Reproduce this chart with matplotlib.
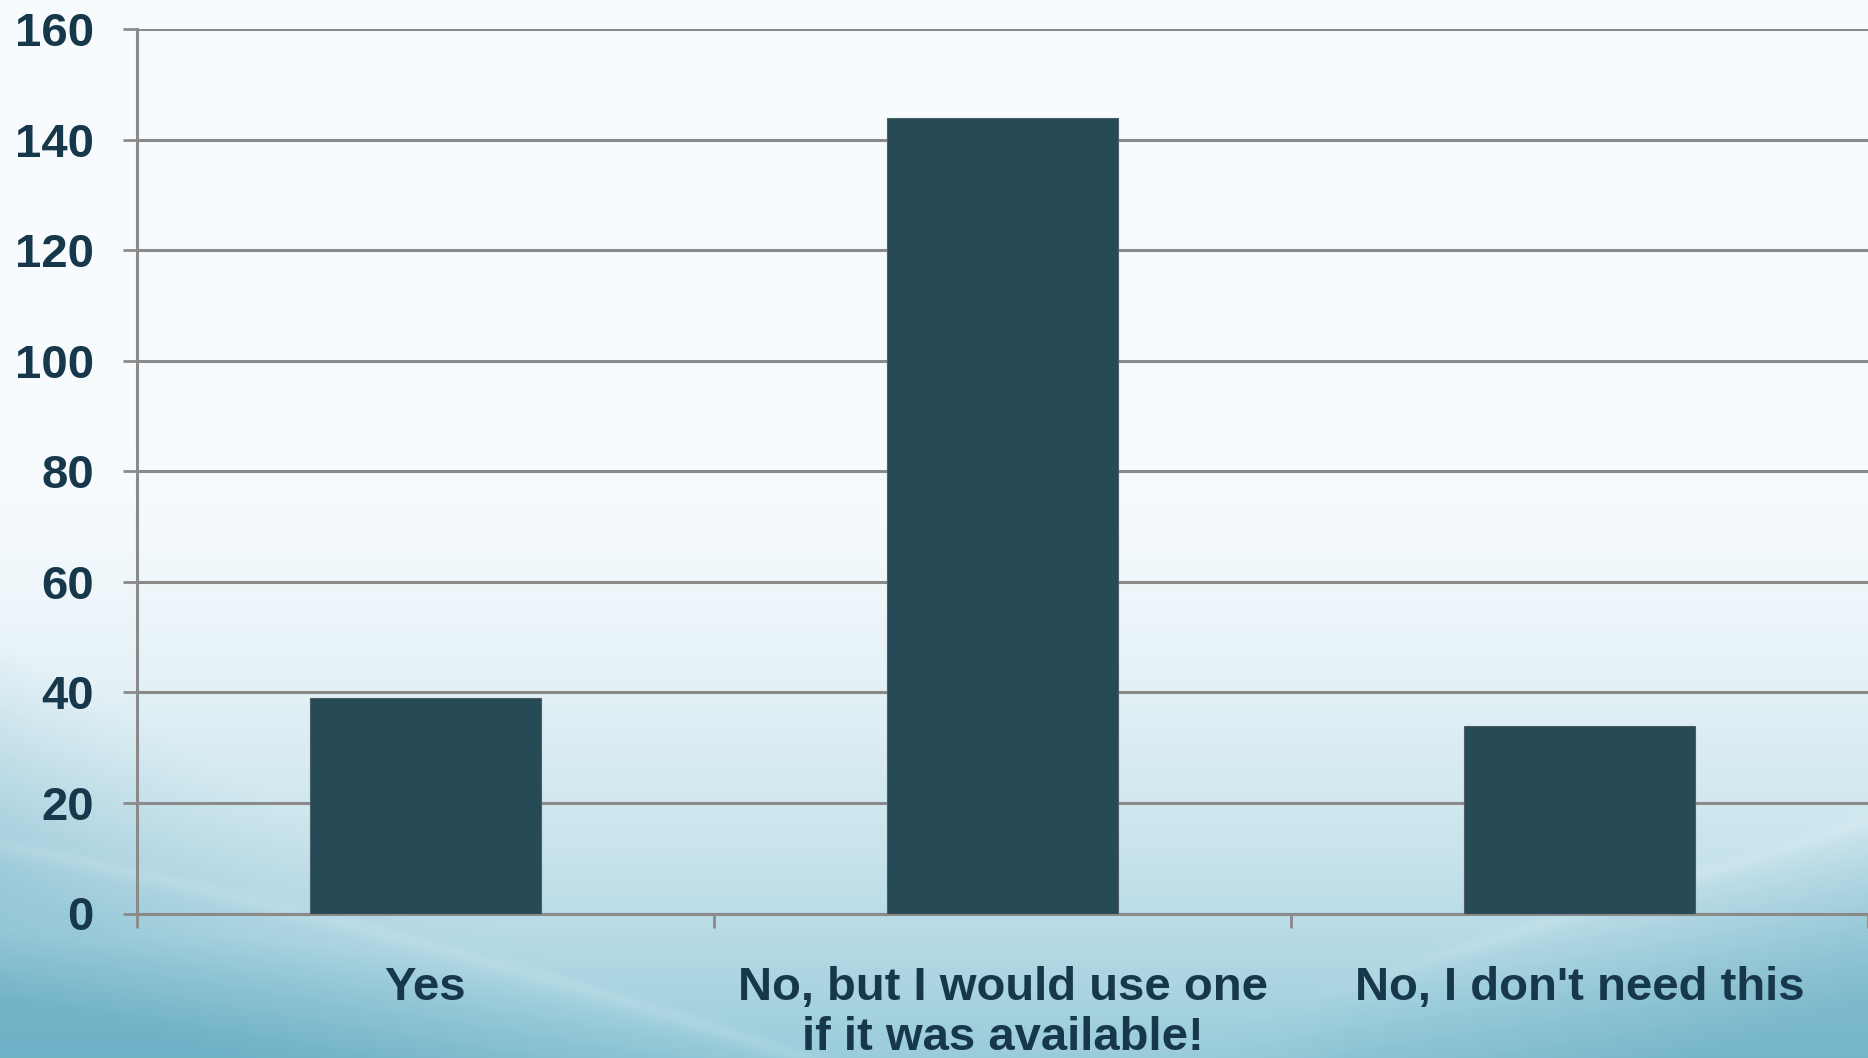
import numpy as np
import matplotlib
matplotlib.use("Agg")
import matplotlib.pyplot as plt

categories = ["Yes", "No, but I would use one\nif it was available!", "No, I don't need this"]
values = [39, 144, 34]
y_ticks = [0, 20, 40, 60, 80, 100, 120, 140, 160]

W, H = 1868, 1058
fig = plt.figure(figsize=(W / 100, H / 100), dpi=100)

# ---- decorative background (gradient with swooshes) ----
X, Y = np.meshgrid(np.arange(W), np.arange(H))
white = np.array([0.972, 0.985, 0.996])
mid = np.array([0.60, 0.80, 0.855])
dark = np.array([0.38, 0.66, 0.75])
tv = np.clip((Y - 430) / 628.0, 0, 1) ** 1.7
img = white[None, None, :] * (1 - tv[..., None]) + mid[None, None, :] * tv[..., None]

yA = 845 + 0.20 * X + 0.00008 * X ** 2
yA2 = 640 + 0.55 * X
yB = 1000 - 0.315 * (X - 1300)
a = np.clip((Y - yA) / 160.0, 0, 1) * 0.75
a2 = np.clip((Y - yA2) / 240.0, 0, 1) * 0.4 * np.clip(1 - X / 700.0, 0, 1)
b = np.clip((Y - yB) / 180.0, 0, 1) * 0.6 * np.clip((X - 1150) / 200.0, 0, 1)
amt = np.clip(np.maximum(np.maximum(a, b), a2), 0, 1)
img = img * (1 - amt[..., None]) + dark[None, None, :] * amt[..., None]
sA = 0.12 * np.exp(-((Y - yA) / 8.0) ** 2) * np.clip((1300 - X) / 300.0, 0, 1)
sB = 0.12 * np.exp(-((Y - yB) / 8.0) ** 2) * np.clip((X - 1300) / 200.0, 0, 1)
s = np.maximum(sA, sB)
img = img * (1 - s[..., None]) + white[None, None, :] * s[..., None]

bg = fig.add_axes([0, 0, 1, 1])
bg.imshow(img, aspect="auto", interpolation="bilinear")
bg.axis("off")

# ---- main chart ----
text_color = "#17374a"
grid_color = "#8a8a8a"
bar_color = "#264a56"
font = ["Liberation Sans", "DejaVu Sans"]

ax = fig.add_axes([137 / W, 1 - 913.5 / H, 1 - 137 / W, (913.5 - 29.3) / H])
ax.set_facecolor("none")
x = np.arange(len(categories))
ax.bar(x, values, width=0.4, color=bar_color, edgecolor="#4d5e64", linewidth=0.8, zorder=3)

ax.set_xlim(-0.5, len(categories) - 0.5)
ax.set_ylim(0, 160)
ax.set_yticks(y_ticks)
ax.yaxis.grid(True, color=grid_color, linewidth=2.2, zorder=1)
ax.set_axisbelow(True)

for side in ["top", "right"]:
    ax.spines[side].set_visible(False)
for side in ["left", "bottom"]:
    ax.spines[side].set_color(grid_color)
    ax.spines[side].set_linewidth(2.2)

ax.tick_params(axis="y", direction="out", length=10, width=2, color=grid_color, pad=21,
               labelsize=34, labelcolor=text_color)
for lab in ax.get_yticklabels():
    lab.set_fontfamily(font)
    lab.set_fontweight("bold")

ax.set_xticks(x)
ax.set_xticklabels(categories, fontsize=34, color=text_color, fontweight="bold",
                   fontfamily=font, linespacing=1.2)
ax.tick_params(axis="x", which="major", length=0, pad=37.5)
ax.set_xticks(np.arange(-0.5, len(categories)), minor=True)
ax.tick_params(axis="x", which="minor", direction="out", length=10, width=2, color=grid_color)

fig.savefig("out.png", dpi=100)
